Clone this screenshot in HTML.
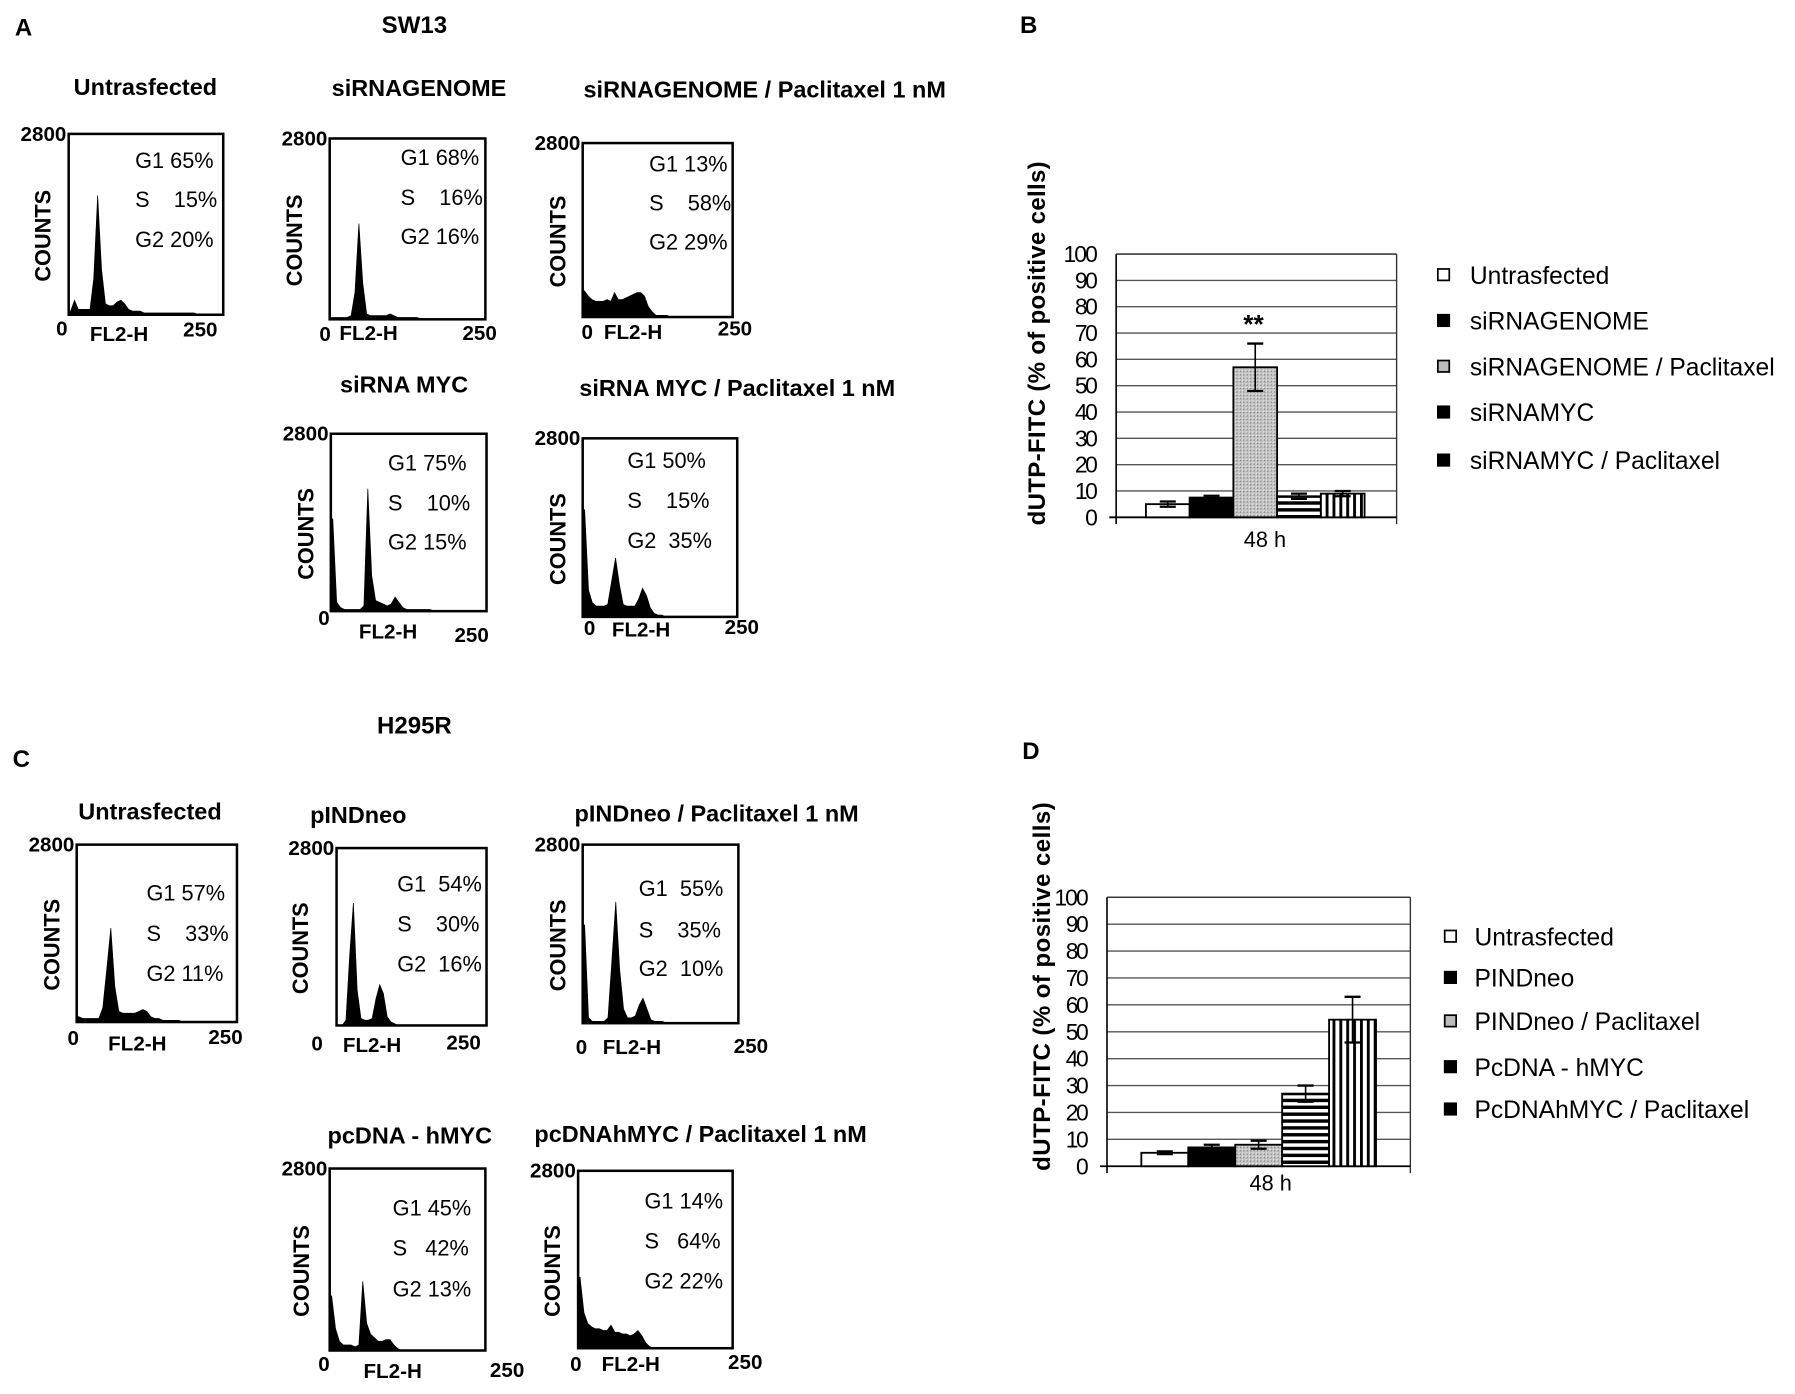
<!DOCTYPE html>
<html><head><meta charset="utf-8"><style>
html,body{margin:0;padding:0;background:#fff;}
svg{display:block;font-family:"Liberation Sans",Arial,sans-serif;}
</style></head><body>
<svg id="fig" xmlns="http://www.w3.org/2000/svg" width="1795" height="1394" viewBox="0 0 1568 1218" preserveAspectRatio="none">
<defs>
<pattern id="dots" width="3" height="3" patternUnits="userSpaceOnUse"><rect width="3" height="3" fill="#c4c4c4"/><rect width="1" height="1" fill="#777"/><rect x="2" y="2" width="1" height="1" fill="#eee"/></pattern>
<pattern id="hstripe" width="6" height="6" patternUnits="userSpaceOnUse"><rect width="6" height="6" fill="#fff"/><rect y="0" width="6" height="3" fill="#000"/></pattern>
<pattern id="vstripe" width="6" height="6" patternUnits="userSpaceOnUse"><rect width="6" height="6" fill="#fff"/><rect x="0" width="2.5" height="6" fill="#000"/></pattern>
</defs>
</svg>
<script>
// ---------- histogram data (percent of 2800 counts, 40 bins across 0..250 FL2-H) ----------
var histSW13Untr = [2,8,3,3,3,3,20,66,25,6,5,5,7,8,6,3,2,2,2,1,1,1,1,1,1,1,1,1,1,1,1,1,1,0,0,0,0,0,0,0];
var histSW13Genome = [1,1,1,1,1,2,15,53,20,3,2,2,2,2,2,3,2,1,1,1,1,1,1,0,0,0,0,0,0,0,0,0,0,0,0,0,0,0,0,0];
var histSW13GenomePacl = [15,12,10,9,9,9,10,9,14,10,10,11,12,13,14,14,12,6,3,1,1,1,1,0,0,0,0,0,0,0,0,0,0,0,0,0,0,0,0,0];
var histSW13Myc = [52,5,2,1,1,1,1,1,3,69,20,6,5,4,3,4,8,5,2,1,1,1,1,1,1,1,0,0,0,0,0,0,0,0,0,0,0,0,0,0];
var histSW13MycPacl = [60,15,8,6,6,6,7,20,33,18,7,6,6,6,10,16,12,5,2,1,1,0,0,0,0,0,0,0,0,0,0,0,0,0,0,0,0,0,0,0];
var histH295Untr = [3,2,2,2,2,2,8,30,53,20,6,5,5,5,5,6,7,6,3,2,2,1,1,1,1,1,0,0,0,0,0,0,0,0,0,0,0,0,0,0];
var histH295Pind = [0,0,3,40,69,20,4,3,3,4,15,23,18,5,2,1,0,0,0,0,0,0,0,0,0,0,0,0,0,0,0,0,0,0,0,0,0,0,0,0];
var histH295PindPacl = [55,3,1,1,1,1,3,35,68,30,8,3,3,4,10,14,8,2,1,1,1,0,0,0,0,0,0,0,0,0,0,0,0,0,0,0,0,0,0,0];
var histH295Myc = [30,12,5,3,3,3,2,3,38,15,9,7,5,5,6,6,3,1,0,0,0,0,0,0,0,0,0,0,0,0,0,0,0,0,0,0,0,0,0,0];
var histH295MycPacl = [40,20,14,12,11,11,10,10,13,9,9,8,8,7,8,10,7,3,1,0,0,0,0,0,0,0,0,0,0,0,0,0,0,0,0,0,0,0,0,0];

// ---------- bar chart B data ----------
var barCategories = ["48 h"];
var seriesB = ["Untrasfected","siRNAGENOME","siRNAGENOME / Paclitaxel","siRNAMYC","siRNAMYC / Paclitaxel"];
var valuesB = [5,7.5,57,8,9];
var errorsB = [1,0.7,9,1,1];
// ---------- bar chart D data ----------
var seriesD = ["Untrasfected","PINDneo","PINDneo / Paclitaxel","PcDNA - hMYC","PcDNAhMYC / Paclitaxel"];
var valuesD = [5,7,8,27,54.5];
var errorsD = [0.5,1,1.5,3,8.5];
var yTicks = [0,10,20,30,40,50,60,70,80,90,100];

var svg = document.getElementById('fig');
var NS = 'http://www.w3.org/2000/svg';
function el(tag, attrs, name, inter){
  var e = document.createElementNS(NS, tag);
  for (var k in attrs) e.setAttribute(k, attrs[k]);
  
  
  svg.appendChild(e);
  return e;
}
function txt(x,y,s,size,weight,anchor,name,rot){
  var a = {x:x,y:y,'font-size':size,'font-weight':weight||'normal','text-anchor':anchor||'start',fill:'#000'};
  if (rot) a.transform = 'rotate(-90 '+x+' '+y+')';
  var t = el('text', a, name, false);
  t.textContent = s;
  return t;
}

// ---------- figure labels ----------
txt(13,31,'A',21,'bold','start','panel-label-a');
txt(362,29,'SW13',21,'bold','middle','sw13-title');
txt(891,29,'B',21,'bold','start','panel-label-b');
txt(362,641,'H295R',21,'bold','middle','h295r-title');
txt(11,670,'C',21,'bold','start','panel-label-c');
txt(893,663,'D',21,'bold','start','panel-label-d');

// ---------- histograms ----------
var panels = [
 {t:'Untrasfected',tx:127,ty:83,l:60,r:195,top:117,b:275,cx:44,zx:54,zy:293,fx:104,fy:298,hx:175,hy:294,px:118,py:[147,181,216],g:['G1 65%','S    15%','G2 20%'],d:histSW13Untr,n:'sw13-untrasfected'},
 {t:'siRNAGENOME',tx:366,ty:84,l:288,r:424,top:121,b:279,cx:264,zx:284,zy:298,fx:322,fy:297,hx:419,hy:297,px:350,py:[144,179,213],g:['G1 68%','S    16%','G2 16%'],d:histSW13Genome,n:'sw13-sirnagenome'},
 {t:'siRNAGENOME / Paclitaxel 1 nM',tx:668,ty:85,l:509,r:640,top:125,b:277,cx:494,zx:513,zy:296,fx:553,fy:296,hx:642,hy:293,px:567,py:[150,184,218],g:['G1 13%','S    58%','G2 29%'],d:histSW13GenomePacl,n:'sw13-sirnagenome-paclitaxel'},
 {t:'siRNA MYC',tx:353,ty:343,l:289,r:425,top:379,b:534,cx:274,zx:283,zy:546,fx:339,fy:558,hx:412,hy:561,px:339,py:[411,446,480],g:['G1 75%','S    10%','G2 15%'],d:histSW13Myc,n:'sw13-sirna-myc'},
 {t:'siRNA MYC / Paclitaxel 1 nM',tx:644,ty:346,l:509,r:644,top:383,b:539,cx:494,zx:515,zy:555,fx:560,fy:556,hx:648,hy:554,px:548,py:[409,444,479],g:['G1 50%','S    15%','G2  35%'],d:histSW13MycPacl,n:'sw13-sirna-myc-paclitaxel'},
 {t:'Untrasfected',tx:131,ty:716,l:67,r:207,top:738,b:893,cx:52,zx:64,zy:913,fx:120,fy:918,hx:197,hy:912,px:128,py:[787,822,857],g:['G1 57%','S    33%','G2 11%'],d:histH295Untr,n:'h295r-untrasfected'},
 {t:'pINDneo',tx:313,ty:719,l:294,r:425,top:741,b:896,cx:269,zx:277,zy:918,fx:325,fy:919,hx:405,hy:917,px:347,py:[779,814,849],g:['G1  54%','S    30%','G2  16%'],d:histH295Pind,n:'h295r-pindneo'},
 {t:'pINDneo / Paclitaxel 1 nM',tx:626,ty:718,l:509,r:645,top:738,b:894,cx:494,zx:508,zy:921,fx:552,fy:921,hx:656,hy:920,px:558,py:[783,819,853],g:['G1  55%','S    35%','G2  10%'],d:histH295PindPacl,n:'h295r-pindneo-paclitaxel'},
 {t:'pcDNA - hMYC',tx:358,ty:999,l:288,r:424,top:1021,b:1180,cx:270,zx:283,zy:1198,fx:343,fy:1204,hx:443,hy:1203,px:343,py:[1062,1097,1133],g:['G1 45%','S   42%','G2 13%'],d:histH295Myc,n:'h295r-pcdna-hmyc'},
 {t:'pcDNAhMYC / Paclitaxel 1 nM',tx:612,ty:998,l:505,r:640,top:1023,b:1178,cx:489,zx:503,zy:1198,fx:551,fy:1198,hx:651,hy:1196,px:563,py:[1056,1091,1126],g:['G1 14%','S   64%','G2 22%'],d:histH295MycPacl,n:'h295r-pcdnahmyc-paclitaxel'}
];
panels.forEach(function(p){
  txt(p.tx,p.ty,p.t,20.5,'bold','middle',p.n+'-title');
  el('rect',{x:p.l,y:p.top,width:p.r-p.l,height:p.b-p.top,fill:'none',stroke:'#000','stroke-width':2.2},p.n+'-frame',false);
  var bw = (p.r-p.l)/p.d.length;
  var xs = function(i){return p.l + (i+0.5)*bw;};
  var ys = function(v){return p.b - v/100*(p.b-p.top);};
  var dstr = 'M'+p.l+' '+p.b+' L'+p.l+' '+ys(p.d[0]).toFixed(1);
  for (var i=0;i<p.d.length;i++){
    dstr += ' L'+xs(i).toFixed(1)+' '+ys(p.d[i]).toFixed(1);
  }
  dstr += ' L'+p.r+' '+p.b+' Z';
  el('path',{d:dstr,fill:'#000',stroke:'#000','stroke-width':0.6},p.n+'-histogram',false);
  txt(p.l-2,p.top+6,'2800',18,'bold','end',p.n+'-ymax');
  txt(p.cx,(p.top+p.b)/2+10,'COUNTS',19,'bold','middle',p.n+'-y-title',true);
  txt(p.zx,p.zy,'0',18,'bold','middle',p.n+'-xmin');
  txt(p.fx,p.fy,'FL2-H',18,'bold','middle',p.n+'-x-title');
  txt(p.hx,p.hy,'250',18,'bold','middle',p.n+'-xmax');
  for (var j=0;j<3;j++){
    var t = txt(p.px,p.py[j],p.g[j],19,'normal','start',p.n+'-phase-'+['g1','s','g2'][j]);
    t.setAttribute('xml:space','preserve');
    t.style.whiteSpace='pre';
  }
});

// ---------- bar charts ----------
var fills = ['#fff','#000','url(#dots)','url(#hstripe)','url(#vstripe)'];
var legFills = ['#fff','#000','#bbb','#000','#000'];
function barChart(c){
  var y = function(v){return c.zero - v/100*(c.zero-c.top);};
  yTicks.forEach(function(v){
    if (v>0) el('line',{x1:c.left,x2:c.right,y1:y(v),y2:y(v),stroke:'#555','stroke-width':1.2},c.n+'-gridline-'+v,false);
    txt(c.left-16,y(v)+7,String(v),20,'normal','end',c.n+'-ytick-'+v).setAttribute('textLength', String(v).length*10);
  });
  el('line',{x1:c.left,x2:c.left,y1:c.top,y2:c.zero+6,stroke:'#000','stroke-width':1.4},c.n+'-y-axis',false);
  el('line',{x1:c.right,x2:c.right,y1:c.top,y2:c.zero+6,stroke:'#333','stroke-width':1.2},c.n+'-right-border',false);
  el('line',{x1:c.left,x2:c.right,y1:c.top,y2:c.top,stroke:'#333','stroke-width':1.2},c.n+'-top-border',false);
  el('line',{x1:c.left-6,x2:c.right,y1:c.zero,y2:c.zero,stroke:'#000','stroke-width':1.6},c.n+'-x-axis',false);
  var bw = c.barW;
  c.vals.forEach(function(v,i){
    var x = c.bx + i*bw;
    el('rect',{x:x,y:y(v),width:bw,height:c.zero-y(v),fill:fills[i],stroke:'#000','stroke-width':1.6},c.n+'-bar-'+(i+1),true);
    var e = c.errs[i], mx = x+bw/2;
    el('line',{x1:mx,x2:mx,y1:y(v+e),y2:y(v-e),stroke:'#000','stroke-width':1.4},c.n+'-errorbar-'+(i+1),false);
    el('line',{x1:mx-7,x2:mx+7,y1:y(v+e),y2:y(v+e),stroke:'#000','stroke-width':2},c.n+'-errorcap-top-'+(i+1),false);
    el('line',{x1:mx-7,x2:mx+7,y1:y(v-e),y2:y(v-e),stroke:'#000','stroke-width':2},c.n+'-errorcap-bottom-'+(i+1),false);
  });
  txt(c.catx,c.caty,barCategories[0],19,'normal','middle',c.n+'-category-label');
  var yt = txt(c.ytx,c.yty,'dUTP-FITC (% of positive cells)',21,'bold','middle',c.n+'-y-title',true);
  yt.setAttribute('textLength',c.ytl);
  c.series.forEach(function(s,i){
    el('rect',{x:c.lx,y:c.ly[i]-13,width:10,height:10,fill:legFills[i],stroke:'#000','stroke-width':1.5},c.n+'-legend-swatch-'+(i+1),false);
    txt(c.lx+c.ltx,c.ly[i],s,21.5,'normal','start',c.n+'-legend-entry-'+(i+1));
  });
}
barChart({n:'chart-b',left:975,right:1220,top:222,zero:452,bx:1001,barW:38.2,vals:valuesB,errs:errorsB,series:seriesB,
  catx:1105,caty:478,ytx:913,yty:300,ytl:318,lx:1256,ltx:28,ly:[248,288,328,368,410]});
txt(1095,291,'**',23,'bold','middle','chart-b-significance-marker');
barChart({n:'chart-d',left:967,right:1232,top:784,zero:1019,bx:997,barW:41,vals:valuesD,errs:errorsD,series:seriesD,
  catx:1110,caty:1040,ytx:917,yty:862,ytl:322,lx:1262,ltx:26,ly:[826,862,900,940,977]});
</script>
</body></html>
